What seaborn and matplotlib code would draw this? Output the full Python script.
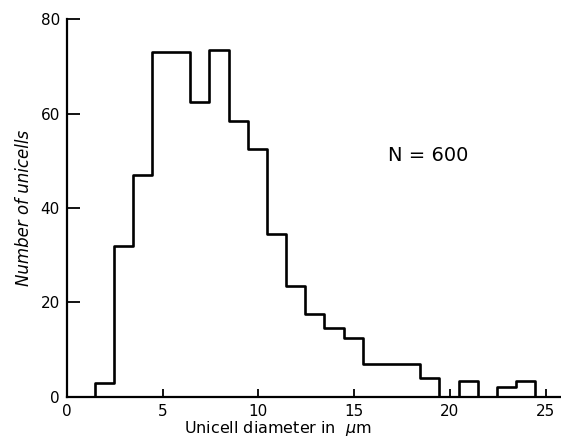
import matplotlib
matplotlib.use("Agg")
import matplotlib.pyplot as plt
import seaborn as sns

# bin edges (um) and counts; zero bins at both ends close the outline
bin_edges = [0.45, 1.45, 2.45, 3.45, 4.45, 5.45, 6.45, 7.45, 8.45, 9.45, 10.45, 11.45,
             12.45, 13.45, 14.45, 15.45, 16.45, 17.45, 18.45, 19.45, 20.45, 21.45,
             22.45, 23.45, 24.45, 25.45]
counts = [0, 3, 32, 47, 73, 73, 62.5, 73.5, 58.5, 52.5, 34.5, 23.5, 17.5, 14.5, 12.5,
          7, 7, 7, 4, 0, 3.3, 0, 2, 3.3, 0]
x_ticks = [0, 5, 10, 15, 20, 25]
y_ticks = [0, 20, 40, 60, 80]

sns.set_style("white")
plt.rcParams['font.family'] = ['DejaVu Sans']
plt.rcParams['text.color'] = 'black'
plt.rcParams['axes.labelcolor'] = 'black'
plt.rcParams['xtick.color'] = 'black'
plt.rcParams['ytick.color'] = 'black'

centers = [(a + b) / 2 for a, b in zip(bin_edges[:-1], bin_edges[1:])]

fig = plt.figure(figsize=(5.61, 4.44), dpi=100)
ax = fig.add_axes([0.119, 0.106, 0.881, 0.851])

sns.histplot(x=centers, weights=counts, bins=bin_edges, element="step", fill=False,
             color="black", linewidth=1.9, ax=ax)

ax.set_xlim(0, 25.8)
ax.set_ylim(0, 80)
ax.set_xticks(x_ticks)
ax.set_yticks(y_ticks)
ax.tick_params(axis='y', left=True, direction='in', length=9, width=1.3, labelsize=11, pad=5)
ax.tick_params(axis='x', bottom=True, direction='in', length=6, width=1.3, labelsize=11, pad=5)

for s in ['top', 'right']:
    ax.spines[s].set_visible(False)
for s in ['left', 'bottom']:
    ax.spines[s].set_linewidth(1.6)
    ax.spines[s].set_color('black')
ax.spines['left'].set_bounds(0, 80)

ax.set_xlabel("Unicell diameter in  $\\mu$m", fontsize=11.5)
ax.xaxis.set_label_coords(0.427, -0.058)
ax.set_ylabel("Number of unicells", fontsize=12, style='italic', labelpad=5)
ax.text(16.75, 51.2, "N = 600", fontsize=14, va='center', ha='left')

fig.savefig("out.png", dpi=100)
